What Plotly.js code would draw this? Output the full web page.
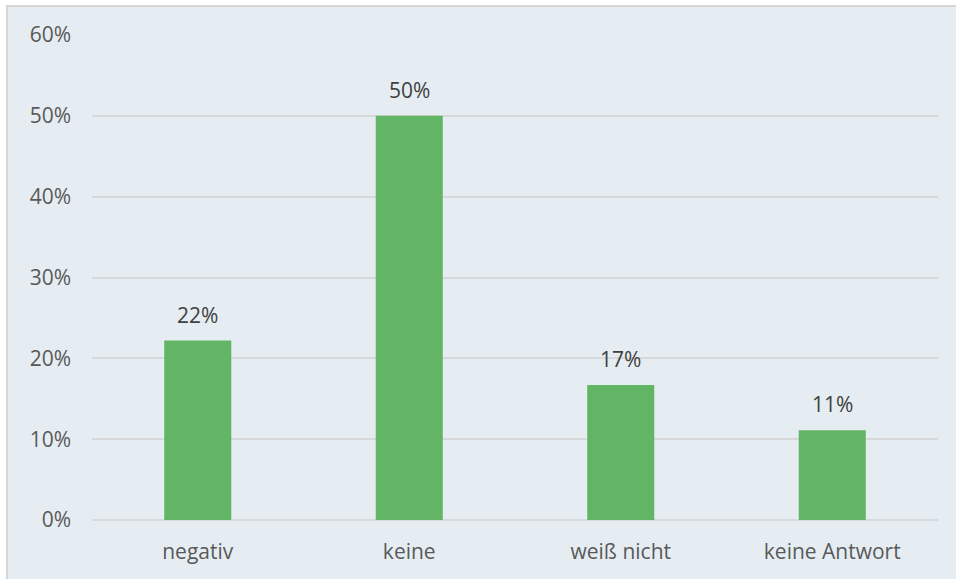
<!DOCTYPE html>
<html>
<head>
<meta charset="utf-8">
<script src="https://cdn.plot.ly/plotly-3.0.1.min.js"></script>
<style>
  html, body { margin: 0; padding: 0; background: #ffffff; }
  #frame { position: absolute; left: 6px; top: 5px; width: 950px; height: 574px;
           border-left: 2px solid #d6d6d6; border-top: 2px solid #d6d6d6; background: #e5edf3; }
  #chart { width: 948px; height: 572px; }
</style>
</head>
<body>
<div id="frame"><div id="chart"></div></div>
<script>
const categories = ["negativ", "keine", "weiß nicht", "keine Antwort"];
const values = [0.222, 0.50, 0.167, 0.111];
const valueLabels = ["22%", "50%", "17%", "11%"];
const yTickValues = [0, 0.1, 0.2, 0.3, 0.4, 0.5, 0.6];
const yTickLabels = ["0%", "10%", "20%", "30%", "40%", "50%", "60%"];

const fontFamily = "Open Sans, Lato, sans-serif";

const trace = {
  type: "bar",
  x: categories,
  y: values,
  marker: { color: "#61b565", line: { width: 0 } },
  hoverinfo: "none"
};

const annotations = categories.map((c, i) => ({
  x: c, y: values[i], xref: "x", yref: "y",
  text: valueLabels[i], showarrow: false,
  yanchor: "bottom", yshift: 10,
  font: { family: fontFamily, size: 21, color: "#404040", weight: 500 }
}));

const layout = {
  width: 948, height: 572,
  margin: { l: 84, r: 18, t: 28, b: 59 },
  paper_bgcolor: "#e5edf3",
  plot_bgcolor: "#e5edf3",
  bargap: 0.683,
  showlegend: false,
  font: { family: fontFamily, color: "#595959" },
  xaxis: {
    type: "category",
    showgrid: false, zeroline: false, showline: false,
    ticks: "", ticklabelstandoff: 17,
    tickfont: { family: fontFamily, size: 21, color: "#595959" }
  },
  yaxis: {
    range: [0, 0.6],
    tickvals: yTickValues, ticktext: yTickLabels,
    showgrid: true, gridcolor: "#d6d8d9", gridwidth: 2,
    zeroline: true, zerolinecolor: "#d6d8d9", zerolinewidth: 2,
    showline: false, ticks: "", ticklabelstandoff: 20,
    tickfont: { family: fontFamily, size: 21, color: "#595959" }
  },
  annotations: annotations
};

Plotly.newPlot("chart", [trace], layout, { displayModeBar: false, staticPlot: true });
</script>
</body>
</html>
